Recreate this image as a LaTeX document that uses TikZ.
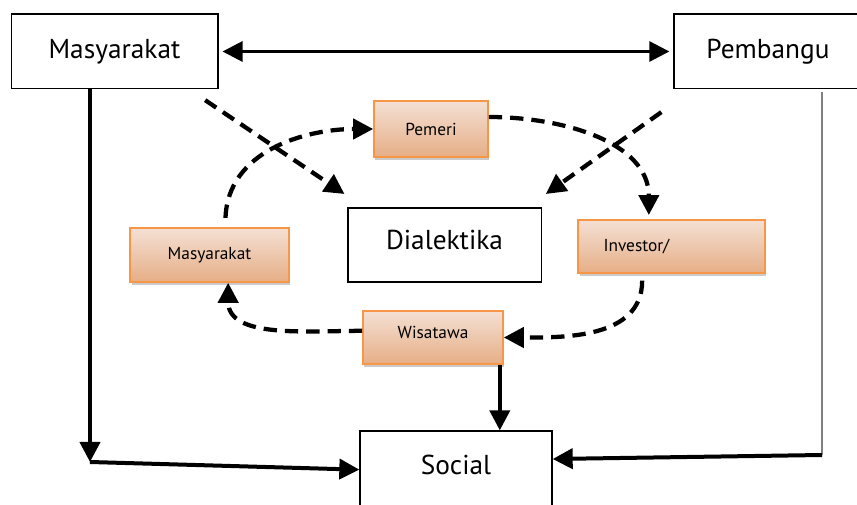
\documentclass[tikz,border=0pt]{standalone}
\usepackage{fontspec}
\setmainfont{PT Sans}
\usetikzlibrary{arrows.meta,shadows}
\definecolor{orline}{HTML}{F79646}
\definecolor{ortop}{HTML}{F4E0D4}
\definecolor{orbot}{HTML}{E6AE86}

\begin{document}
\begin{tikzpicture}[
    x=0.75pt, y=-0.75pt,
    box/.style={rectangle, draw=black, line width=1pt, fill=white, font=\fontsize{20.5}{24}\selectfont},
    obox/.style={rectangle, draw=orline, line width=1.2pt, top color=ortop, bottom color=orbot,
        font=\fontsize{13}{15}\selectfont,
        drop shadow={shadow xshift=1pt, shadow yshift=-2pt, fill=black!35, opacity=.6}},
    raised/.style={text depth=#1},
    tip/.style={-{Triangle[length=15pt,width=15pt]}},
    arr/.style={tip, line width=3pt},
    darr/.style={tip, line width=3.2pt, dash pattern=on 10pt off 6pt},
  ]
  \useasboundingbox (0,0) rectangle (857,505);

  \node[box, minimum width=155pt, minimum height=56pt] (msos) at (114.5,51.5) {Masyarakat};
  \node[box, minimum width=141pt, minimum height=56pt] (pemb) at (768,51.5) {Pembangu};
  \node[obox, minimum width=85.5pt, minimum height=42pt] (pemeri) at (431,129) {Pemeri};
  \node[box, raised=8pt, minimum width=145pt, minimum height=55.5pt] (dial) at (444.5,245) {Dialektika};
  \node[obox, minimum width=119pt, minimum height=40.5pt] (masy) at (209.5,255) {Masyarakat};
  \node[obox, minimum height=40pt, text width=102pt, inner xsep=19pt, align=left] (inv) at (671.5,246.5) {Investor/};
  \node[obox, raised=7pt, minimum width=105pt, minimum height=40pt] (wis) at (433,337.5) {Wisatawa};
  \node[box, raised=9pt, minimum width=144pt, minimum height=60pt] (soc) at (456,471) {Social};

  \coordinate (lc) at (90,462);
  \coordinate (rc) at (822,455);

  % solid links
  \draw[{Triangle[length=15pt,width=15pt]}-{Triangle[length=15pt,width=15pt]}, line width=2.2pt,
    shorten <=3pt, shorten >=3pt] (msos) -- (pemb);
  \draw[arr] (msos.south -| lc) -- (lc);
  \draw[arr] (lc) -- ([yshift=1pt]soc.west);
  \draw[gray, line width=1.2pt, shorten <=2pt] (pemb.south -| rc) -- (rc);
  \draw[arr] (rc) -- ([yshift=9pt]soc.east);
  \draw[arr] ([xshift=-3pt]wis.south east) -- ([xshift=-3pt]wis.south east |- soc.north);

  % dashed links
  \draw[darr] ([xshift=-10pt,yshift=-8pt]msos.south east) -- ([xshift=-2pt,yshift=10pt]dial.north west);
  \draw[darr] ([xshift=-9pt,yshift=-17pt]pemb.south west) -- ([xshift=3pt,yshift=10pt]dial.north east);
  \draw[darr] ([xshift=12pt,yshift=7pt]masy.north) to[out=88, in=180] (pemeri.west);
  \draw[darr] ([yshift=9pt]pemeri.east) to[out=0, in=90] ([xshift=-17pt,yshift=3pt]inv.north);
  \draw[darr] ([xshift=-22pt,yshift=-5pt]inv.south) to[out=-90, in=0] (wis.east);
  \draw[darr] ([yshift=5pt]wis.west) to[out=180, in=-90] ([xshift=14pt]masy.south);
\end{tikzpicture}
\end{document}
